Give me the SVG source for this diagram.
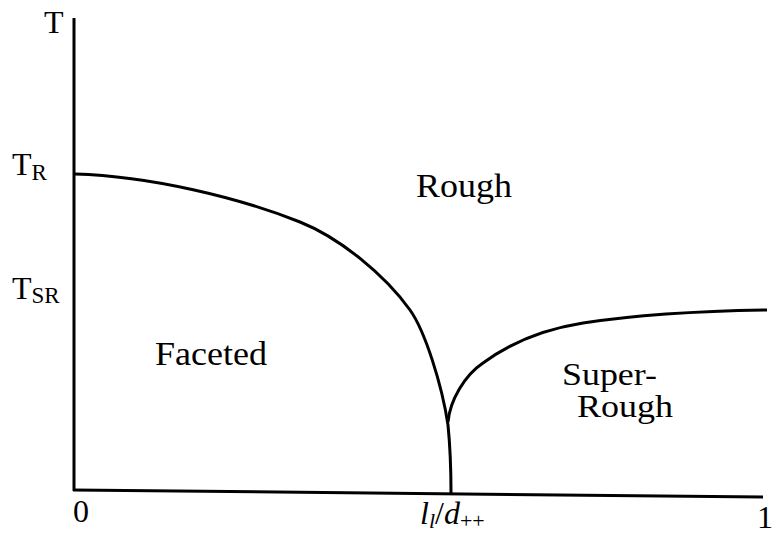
<svg xmlns="http://www.w3.org/2000/svg" width="775" height="534" viewBox="0 0 775 534">
<style>
.ln{fill:none;stroke:#000;stroke-width:3;stroke-linecap:butt;stroke-linejoin:round}
.t{font-family:"Liberation Serif","DejaVu Serif","Times New Roman",serif;fill:#000}
.i{font-style:italic}
</style>
<rect width="775" height="534" fill="#fff"/>
<g id="connectors">
<path id="axis-y" class="ln" d="M74,18 L74,491"/>
<path id="axis-x" class="ln" d="M73,490 L763,497"/>
<path id="boundary-faceted-rough" class="ln" d="M75,174 C150,176 240,198 300,222 C340,238 385,275 410,310 C425,331 442,385 448,425 C450,445 451,470 451,493"/>
<path id="boundary-superrough" class="ln" d="M448,422 C450,400 465,375 483,363 C510,343 545,329 583,323 C630,316 700,311 767,310"/>
</g>
<g id="axis-labels">
<text class="t" x="44" y="33" font-size="32">T</text>
<text class="t" x="12" y="175" font-size="32">T<tspan font-size="23" dy="5">R</tspan></text>
<text class="t" x="12" y="299" font-size="32">T<tspan font-size="23" dy="4">SR</tspan></text>
<text class="t" x="73" y="522" font-size="32">0</text>
<text class="t" x="757" y="528" font-size="32">1</text>
<text class="t" x="420" y="524" font-size="32"><tspan class="i">l</tspan><tspan class="i" font-size="22" dy="4">l</tspan><tspan dy="-4">/</tspan><tspan class="i">d</tspan><tspan font-size="22" dy="4">++</tspan></text>
</g>
<g id="node-rough"><text class="t" x="416" y="197" font-size="34" textLength="96" lengthAdjust="spacingAndGlyphs">Rough</text></g>
<g id="node-faceted"><text class="t" x="155" y="365" font-size="34" textLength="112" lengthAdjust="spacingAndGlyphs">Faceted</text></g>
<g id="node-superrough">
<text class="t" x="562" y="385" font-size="31" textLength="95" lengthAdjust="spacingAndGlyphs">Super-</text>
<text class="t" x="577" y="417" font-size="31" textLength="96" lengthAdjust="spacingAndGlyphs">Rough</text>
</g>
</svg>
